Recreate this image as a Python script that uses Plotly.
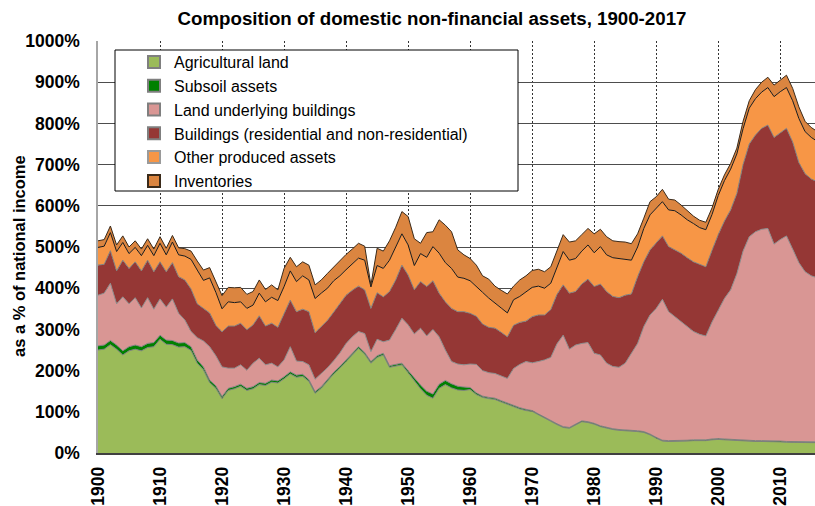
import plotly.graph_objects as go

years = list(range(1900, 2017))

agricultural_land = [
    250, 252, 263, 252, 238, 248, 252, 248, 256, 258,
    276, 264, 263, 257, 258, 249, 218, 202, 171, 157,
    132, 152, 156, 162, 152, 156, 166, 164, 172, 170,
    180, 192, 184, 186, 174, 145, 157, 174, 192, 206,
    222, 238, 254, 240, 218, 232, 238, 208, 211, 214,
    195, 175, 156, 140, 133, 157, 166, 158, 153, 152,
    154, 142, 135, 132, 130, 124, 118, 113, 107, 103,
    101, 93, 84, 77, 69, 62, 60, 68, 76, 74,
    70, 64, 60, 57, 55, 54, 54, 52, 50, 44,
    36, 29, 28, 28, 28, 29, 30, 30, 30, 32,
    33, 32, 31, 30, 29, 28, 28, 28, 28, 27,
    27, 26, 26, 26, 25, 25, 25]

subsoil_assets = [
    10, 10, 10, 10, 10, 10, 10, 10, 10, 10,
    10, 10, 10, 10, 10, 9, 8, 7, 6, 6,
    5, 5, 5, 5, 5, 5, 5, 5, 5, 5,
    5, 5, 5, 5, 4, 4, 4, 4, 4, 4,
    4, 4, 4, 4, 4, 4, 4, 4, 4, 4,
    5, 7, 9, 10, 10, 10, 10, 10, 9, 8,
    5, 4, 3, 3, 3, 3, 3, 3, 3, 3,
    2, 2, 2, 2, 2, 2, 2, 2, 2, 2,
    2, 2, 2, 2, 2, 2, 2, 2, 2, 2,
    2, 2, 2, 2, 2, 2, 2, 2, 2, 2,
    2, 2, 2, 2, 2, 2, 2, 2, 2, 2,
    2, 2, 2, 2, 2, 2, 2]

land_under_buildings = [
    123, 126, 139, 100, 131, 104, 115, 94, 111, 81,
    88, 80, 101, 72, 55, 37, 54, 63, 81, 73,
    72, 49, 45, 47, 44, 57, 59, 45, 41, 34,
    41, 61, 34, 31, 36, 30, 32, 29, 28, 33,
    40, 40, 37, 46, 24, 40, 28, 62, 85, 109,
    111, 107, 138, 134, 157, 115, 74, 54, 54, 54,
    57, 69, 62, 60, 60, 60, 60, 89, 105, 116,
    116, 127, 140, 153, 194, 222, 190, 192, 188, 192,
    170, 172, 156, 151, 151, 162, 186, 212, 255, 289,
    313, 342, 313, 301, 289, 274, 263, 256, 252, 284,
    310, 341, 363, 403, 459, 495, 507, 513, 515, 478,
    489, 499, 467, 434, 413, 403, 398]

buildings = [
    73, 70, 79, 80, 89, 86, 87, 90, 91, 91,
    90, 86, 88, 89, 97, 103, 82, 78, 82, 74,
    85, 102, 102, 101, 98, 93, 103, 94, 97, 96,
    113, 113, 120, 127, 129, 113, 114, 115, 118, 119,
    117, 113, 110, 106, 105, 113, 109, 118, 120, 129,
    121, 107, 113, 120, 118, 106, 117, 129, 127, 129,
    123, 117, 113, 110, 110, 106, 101, 105, 102, 98,
    112, 113, 109, 116, 120, 122, 136, 130, 144, 154,
    162, 172, 174, 170, 169, 165, 144, 162, 157, 158,
    158, 154, 158, 162, 166, 169, 169, 170, 168, 174,
    185, 188, 194, 195, 210, 225, 235, 245, 251, 259,
    260, 261, 260, 243, 238, 235, 233]

other_produced = [
    43, 44, 44, 47, 43, 36, 35, 37, 36, 39,
    45, 41, 50, 53, 58, 72, 82, 69, 85, 80,
    56, 59, 57, 52, 52, 48, 55, 59, 63, 65,
    65, 71, 73, 81, 77, 83, 81, 78, 76, 68,
    62, 65, 68, 72, 52, 66, 69, 76, 80, 76,
    73, 59, 68, 71, 83, 97, 95, 97, 84, 81,
    79, 71, 77, 71, 60, 59, 58, 62, 63, 70,
    71, 70, 65, 64, 67, 81, 80, 80, 80, 83,
    82, 91, 89, 94, 95, 87, 82, 72, 81, 85,
    85, 83, 89, 95, 93, 92, 93, 89, 90, 87,
    95, 98, 99, 96, 87, 87, 88, 88, 91, 99,
    99, 99, 100, 107, 102, 101, 98]

inventories = [
    16, 16, 16, 16, 16, 16, 16, 16, 16, 16,
    16, 16, 16, 17, 18, 20, 22, 25, 25, 28,
    32, 35, 36, 35, 34, 33, 32, 30, 30, 26,
    44, 33, 36, 34, 36, 33, 32, 36, 34, 36,
    37, 35, 36, 34, 5, 42, 42, 47, 48, 54,
    69, 65, 25, 60, 36, 81, 91, 89, 66, 57,
    54, 53, 40, 46, 42, 43, 46, 33, 40, 40,
    41, 41, 40, 40, 38, 41, 44, 43, 40, 40,
    46, 42, 44, 41, 41, 42, 40, 32, 25, 32,
    28, 30, 26, 26, 24, 22, 18, 18, 18, 16,
    15, 14, 14, 14, 18, 18, 22, 24, 25, 28,
    28, 30, 30, 28, 25, 24, 24]

series_names = ["Agricultural land", "Subsoil assets", "Land underlying buildings",
                "Buildings (residential and non-residential)", "Other produced assets",
                "Inventories"]
series_values = [agricultural_land, subsoil_assets, land_under_buildings,
                 buildings, other_produced, inventories]
fill_colors = ["#9BBB59", "#008000", "#D99694", "#953735", "#F79646", "#DB8540"]
line_colors = ["#7F7F7F", "#7F7F7F", "#8C8C8C", "#7F7F7F", "#1A1A1A", "#3A2A1A"]
legend_edge = ["#7F7F7F", "#7F7F7F", "#7F7F7F", "#7F7F7F", "#9A9A9A", "#3A2A1A"]

FONT = "Liberation Sans, Arial, sans-serif"

fig = go.Figure()
for name, vals, fc, lc in zip(series_names, series_values, fill_colors, line_colors):
    fig.add_trace(go.Scatter(
        x=years, y=vals, stackgroup="one", mode="lines", name=name,
        line=dict(color=lc, width=1), fillcolor=fc, showlegend=False,
        hoverinfo="skip"))

for name, fc, ec in zip(series_names, fill_colors, legend_edge):
    fig.add_trace(go.Scatter(
        x=[None], y=[None], mode="markers", name=name,
        marker=dict(symbol="square", size=9, color=fc, line=dict(color=ec, width=1))))

W, H = 815, 506
L, R, T, B = 98, 0, 41, 53
pw, ph = W - L - R, H - T - B

def px_x(x):
    return (x - L) / pw

def px_y(y):
    return (H - B - y) / ph

fig.add_shape(type="rect", xref="paper", yref="paper",
              x0=px_x(115), x1=px_x(518), y0=px_y(191), y1=px_y(50),
              line=dict(color="black", width=1), fillcolor="white", layer="above")

fig.add_annotation(text="as a % of national income", xref="paper", yref="paper",
                   x=px_x(19), y=px_y(256), textangle=-90, showarrow=False,
                   xanchor="center", yanchor="middle",
                   font=dict(family=FONT, size=16.5, color="black", weight="bold"))

fig.update_layout(
    width=W, height=H,
    margin=dict(l=L, r=R, t=T, b=B, autoexpand=False),
    paper_bgcolor="white", plot_bgcolor="white",
    title=dict(text="Composition of domestic non-financial assets, 1900-2017",
               x=432 / W, xanchor="center", y=1 - 18 / H, yanchor="middle",
               xref="container", yref="container",
               font=dict(family=FONT, size=18.7, color="black", weight="bold")),
    legend=dict(x=px_x(134), y=px_y(45), xanchor="left", yanchor="top",
                bgcolor="rgba(0,0,0,0)", borderwidth=0, traceorder="normal",
                font=dict(family=FONT, size=16, color="black"),
                itemsizing="constant", tracegroupgap=0),
    showlegend=True,
    xaxis=dict(range=[1900, 2015.6], tickmode="linear", tick0=1900, dtick=10,
               tickangle=-90, showgrid=True, gridcolor="#333333", gridwidth=1,
               griddash="2px,2px", showline=True, linecolor="#404040", linewidth=1.5,
               ticks="outside", ticklen=5, tickcolor="rgba(0,0,0,0)", zeroline=False,
               tickfont=dict(family=FONT, size=17.5, color="black", weight="bold")),
    yaxis=dict(range=[0, 1000], tickmode="linear", tick0=0, dtick=100, ticksuffix="%",
               showgrid=True, gridcolor="#4D4D4D", gridwidth=1, zeroline=False,
               showline=True, linecolor="#A6A6A6", linewidth=1.5,
               ticks="outside", ticklen=13, tickcolor="rgba(0,0,0,0)",
               tickfont=dict(family=FONT, size=17.5, color="black", weight="bold")),
)

fig.write_html("out.html", config={"displayModeBar": False},
               post_script="document.body.style.margin='0px';")
